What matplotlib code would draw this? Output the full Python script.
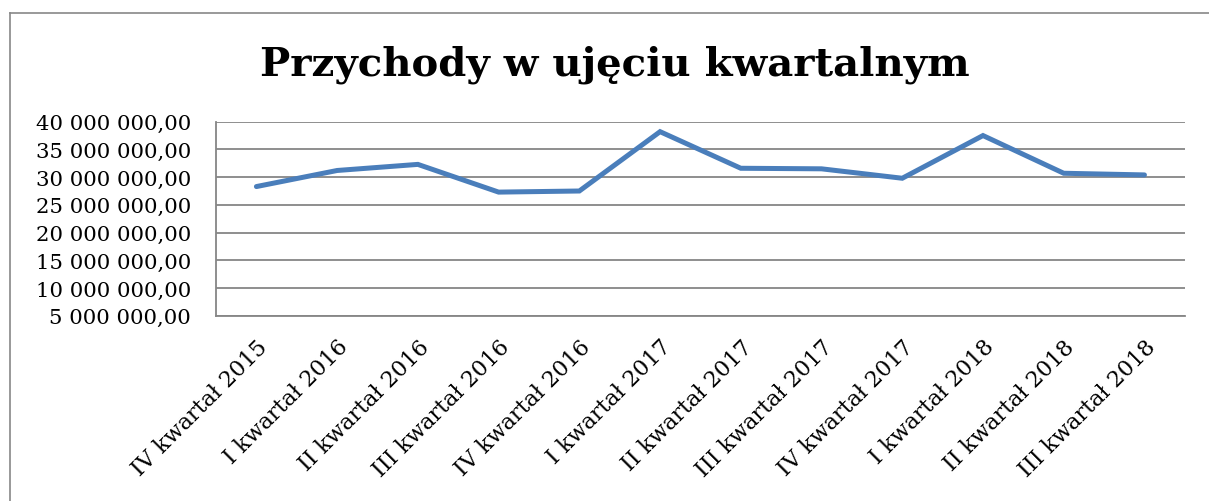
import matplotlib as mpl
from matplotlib import pyplot as plt
from matplotlib.ticker import FuncFormatter, MultipleLocator
from matplotlib.lines import Line2D

mpl.rcParams["font.family"] = ["DejaVu Serif"]

kwartaly = ["IV kwartał 2015", "I kwartał 2016", "II kwartał 2016", "III kwartał 2016",
            "IV kwartał 2016", "I kwartał 2017", "II kwartał 2017", "III kwartał 2017",
            "IV kwartał 2017", "I kwartał 2018", "II kwartał 2018", "III kwartał 2018"]
przychody = [28.3e6, 31.2e6, 32.3e6, 27.3e6, 27.5e6, 38.2e6,
             31.6e6, 31.5e6, 29.8e6, 37.5e6, 30.7e6, 30.4e6]

def pln(v, pos):
    s = "{:,.2f}".format(v)
    return s.replace(",", " ").replace(".", ",")

fig = plt.figure(figsize=(12.09, 5.02), dpi=100)
ax = fig.add_axes([0.1787, 0.369, 0.8013, 0.3866])

x = range(len(kwartaly))
ax.plot(x, przychody, color="#4a7ebb", lw=3.6, solid_capstyle="round", solid_joinstyle="miter")

ax.set_xlim(-0.5, 11.5)
ax.set_ylim(5e6, 40e6)
ax.yaxis.set_major_locator(MultipleLocator(5e6))
ax.yaxis.set_major_formatter(FuncFormatter(pln))
ax.grid(axis="y", color="#868686", lw=1.3)
ax.set_axisbelow(True)

for s in ["top", "right"]:
    ax.spines[s].set_visible(False)
for s in ["left", "bottom"]:
    ax.spines[s].set_color("#868686")
    ax.spines[s].set_linewidth(1.3)

ax.set_xticks(list(x))
ax.set_xticklabels(kwartaly, rotation=45, ha="right", rotation_mode="anchor")
ax.tick_params(axis="both", length=0)
ax.tick_params(axis="x", pad=14, labelsize=16)
ax.tick_params(axis="y", pad=18, labelsize=15.3)

fig.text(615 / 1209, 1 - 65 / 502, "Przychody w ujęciu kwartalnym",
         ha="center", va="center", fontsize=29, fontweight="bold")

# ramka wykresu
fx = 10 / 1209
fy = 1 - 13.5 / 502
fig.add_artist(Line2D([fx, 1.0], [fy, fy], color="#888888", lw=1.2))
fig.add_artist(Line2D([fx, fx], [0, fy], color="#888888", lw=1.2))

fig.savefig("out.png", dpi=100)
